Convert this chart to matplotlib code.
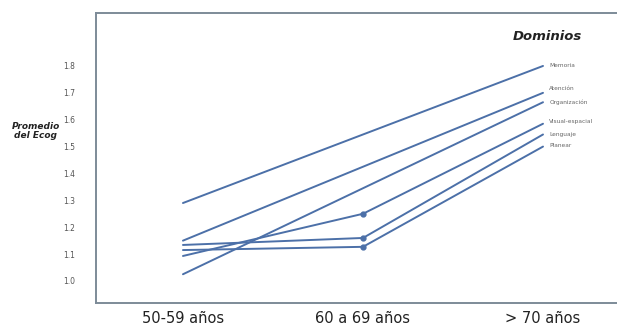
import matplotlib
matplotlib.use("Agg")
import matplotlib.pyplot as plt

# age groups on the x axis
GROUPS = ["50-59 años", "60 a 69 años", "> 70 años"]

# mean Ecog per domain
DOMAINS = ["Memoria", "Atención", "Organización", "Visual-espacial", "Lenguaje", "Planear"]
MEMORIA = [1.29, 1.545, 1.80]
ATENCION = [1.15, 1.425, 1.70]
ORGANIZACION = [1.025, 1.345, 1.665]
VISUAL = [1.093, 1.25, 1.585]
LENGUAJE = [1.134, 1.16, 1.545]
PLANEAR = [1.115, 1.127, 1.50]
HAS_MARKER = [False, False, False, True, True, True]

YTICKS = [1.0, 1.1, 1.2, 1.3, 1.4, 1.5, 1.6, 1.7, 1.8]

LINE_COLOR = "#4c70a8"
SPINE_COLOR = "#7d8b98"
LABEL_OFFSET = {"Memoria": 0.0, "Atención": 0.016, "Organización": 0.0,
                "Visual-espacial": 0.007, "Lenguaje": 0.0, "Planear": 0.003}


def main():
    fig = plt.figure(figsize=(6.17, 3.30), dpi=100)
    ax = fig.add_axes([0.1556, 0.0818, 0.8444, 0.8788])

    series = [MEMORIA, ATENCION, ORGANIZACION, VISUAL, LENGUAJE, PLANEAR]
    x = list(range(len(GROUPS)))
    for name, vals, mk in zip(DOMAINS, series, HAS_MARKER):
        ax.plot(x, vals, color=LINE_COLOR, linewidth=1.4, solid_capstyle="round")
        if mk:
            ax.plot(x[1], vals[1], "o", color=LINE_COLOR, markersize=3.5)
        ax.text(x[-1] + 0.035, vals[-1] + LABEL_OFFSET[name], name,
                fontsize=4.2, color="#666666", ha="left", va="center")

    ax.text(2.025, 1.908, "Dominios", fontsize=9.5, fontweight="bold",
            fontstyle="italic", ha="center", va="center", color="#222222")

    ax.set_xlim(-0.483, 2.411)
    ax.set_ylim(0.918, 1.997)
    ax.set_xticks(x)
    ax.set_xticklabels(GROUPS, fontsize=10.5, color="#222222")
    ax.set_yticks(YTICKS)
    ax.set_yticklabels([f"{v:.1f}" for v in YTICKS], fontsize=5.5, color="#555555")
    ax.tick_params(axis="y", length=0, pad=15)
    ax.tick_params(axis="x", length=0, pad=6)

    for side in ["left", "bottom", "top"]:
        ax.spines[side].set_color(SPINE_COLOR)
        ax.spines[side].set_linewidth(1.4)
    ax.spines["right"].set_visible(False)

    fig.text(0.058, 0.603, "Promedio\ndel Ecog", fontsize=6.5, fontweight="bold",
             fontstyle="italic", ha="center", va="center", color="#222222",
             linespacing=1.1)

    fig.savefig("out.png", dpi=100)


if __name__ == "__main__":
    main()
